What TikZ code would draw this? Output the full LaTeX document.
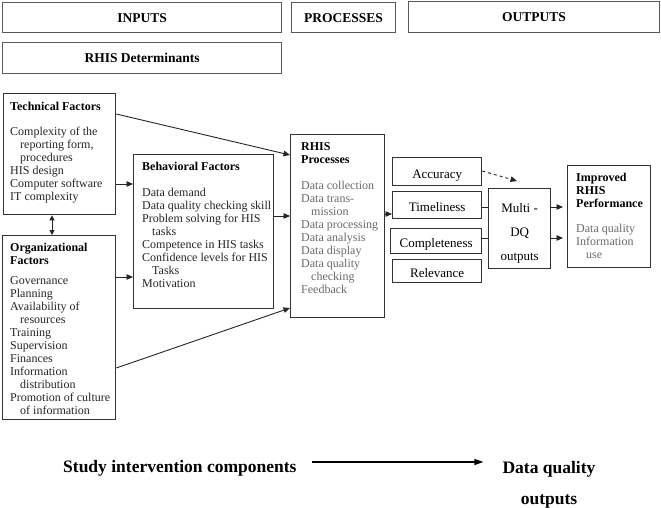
\documentclass[tikz,border=0pt]{standalone}
\usepackage{fontspec}
\setmainfont{Liberation Serif}
\usetikzlibrary{arrows.meta}
\newcommand{\hind}{\hspace*{10pt}}
\begin{document}
\begin{tikzpicture}[x=1pt,y=-1pt,
  hdr/.style={draw=black!65, line width=1.2pt, anchor=north west, inner sep=0pt, font=\fontsize{13.5}{15}\selectfont\bfseries},
  box/.style={draw=black!80, line width=1.3pt, anchor=north west, inner sep=0pt},
  txt/.style={anchor=north west, inner sep=0pt, align=left, font=\fontsize{12}{13}\selectfont, text=black!85},
  gtxt/.style={txt, text=black!58},
  dqbox/.style={box, font=\fontsize{13}{15}\selectfont, text height=13pt, text depth=0pt},
  arr/.style={line width=0.9pt, draw=black!85, -{Triangle[length=6.5pt,width=5.5pt]}},
  dbl/.style={line width=0.9pt, draw=black!85, {Triangle[length=5pt,width=5pt]}-{Triangle[length=5pt,width=5pt]}},
  ln/.style={line width=0.9pt, draw=black!85},
  big/.style={anchor=base west, inner sep=0pt, font=\fontsize{17.5}{20}\selectfont\bfseries}]
\useasboundingbox[fill=white] (0,0) rectangle (661,508);

% headers
\node[hdr, minimum width=279pt, minimum height=30pt] (inputs) at (2,2) {INPUTS};
\node[hdr, minimum width=104pt, minimum height=30pt] (processes) at (291,2) {PROCESSES};
\node[hdr, minimum width=251pt, minimum height=31pt] (outputs) at (408,1) {OUTPUTS};
\node[hdr, minimum width=279pt, minimum height=31pt] (determ) at (2,42) {RHIS Determinants};

% boxes
\node[box, minimum width=112pt, minimum height=121pt] (tech) at (3,93) {};
\node[box, minimum width=140pt, minimum height=154pt] (beh) at (133,154) {};
\node[box, minimum width=113pt, minimum height=184pt] (org) at (2,235) {};
\node[box, minimum width=94pt, minimum height=183pt] (rhis) at (290,134) {};
\node[dqbox, minimum width=89pt, minimum height=28pt] (acc) at (392,157) {Accuracy};
\node[dqbox, minimum width=89pt, minimum height=27pt] (tim) at (392,191) {Timeliness};
\node[dqbox, minimum width=91pt, minimum height=25pt] (comp) at (390,228) {Completeness};
\node[dqbox, minimum width=89pt, minimum height=23pt] (rel) at (392,259) {Relevance};
\node[box, minimum width=62pt, minimum height=80pt, align=center, font=\fontsize{13}{24}\selectfont] (multi) at (488,188) {\rule{0pt}{19pt}Multi -\\DQ\\outputs};
\node[box, minimum width=83pt, minimum height=102pt] (imp) at (567,165) {};

% box texts
\node[txt] (techtxt) at (10,101.5) {\textcolor{black}{\textbf{Technical Factors}}\\[12pt]Complexity of the\\\hind reporting form,\\\hind procedures\\HIS design\\Computer software\\IT complexity};
\node[txt] (behtxt) at (142,161.5) {\textcolor{black}{\textbf{Behavioral Factors}}\\[13pt]Data demand\\Data quality checking skill\\Problem solving for HIS\\\hind tasks\\Competence in HIS tasks\\Confidence levels for HIS\\\hind Tasks\\Motivation};
\node[txt] (orgtxt) at (10,242.5) {\textcolor{black}{\textbf{Organizational}}\\\textcolor{black}{\textbf{Factors}}\\[7pt]Governance\\Planning\\Availability of\\\hind resources\\Training\\Supervision\\Finances\\Information\\\hind distribution\\Promotion of culture\\\hind of information};
\node[gtxt] (rhistxt) at (301,142.5) {\textcolor{black}{\textbf{RHIS}}\\\textcolor{black}{\textbf{Processes}}\\[13pt]Data collection\\Data trans-\\\hind mission\\Data processing\\Data analysis\\Data display\\Data quality\\\hind checking\\Feedback};
\node[gtxt] (imptxt) at (576,172.5) {\textcolor{black}{\textbf{Improved}}\\\textcolor{black}{\textbf{RHIS}}\\\textcolor{black}{\textbf{Performance}}\\[12pt]Data quality\\Information\\\hind use};

% connectors
\draw[arr] (tech.east |- 0,184) -- (beh.west |- 0,184);
\draw[arr] (tech.east |- 0,114) -- (rhis.west |- 0,155);
\draw[arr] (beh.east |- 0,216) -- (rhis.west |- 0,216);
\draw[arr] (org.east |- 0,277) -- (beh.west |- 0,277);
\draw[arr] (org.east |- 0,368) -- (rhis.west |- 0,308);
\draw[dbl] (tech.south -| 52,0) -- (org.north -| 52,0);
\draw[arr] (rhis.east |- 0,214) -- (tim.west |- 0,214);
\draw[ln] (tim.east |- 0,207) -- (multi.west |- 0,207);
\draw[ln] (comp.east |- 0,238) -- (multi.west |- 0,238);
\coordinate (dtip) at (517,181);
\draw[arr, dashed] (acc.east |- 0,171) -- (dtip);
\draw[arr, shorten >=4pt] (multi.east |- 0,207) -- (imp.west |- 0,207);
\draw[arr, shorten >=4pt] (multi.east |- 0,238) -- (imp.west |- 0,238);

% bottom legend
\node[big] (study) at (63,472) {Study intervention components};
\node[anchor=north, inner sep=0pt, align=center, font=\fontsize{17.5}{31}\selectfont\bfseries] (dq) at (549,461) {Data quality\\outputs};
\draw[line width=1.3pt, -{Triangle[length=9pt,width=6pt]}, shorten <=15pt, shorten >=19pt] (study.east |- 0,462) -- (dq.west |- 0,462);
\end{tikzpicture}
\end{document}
